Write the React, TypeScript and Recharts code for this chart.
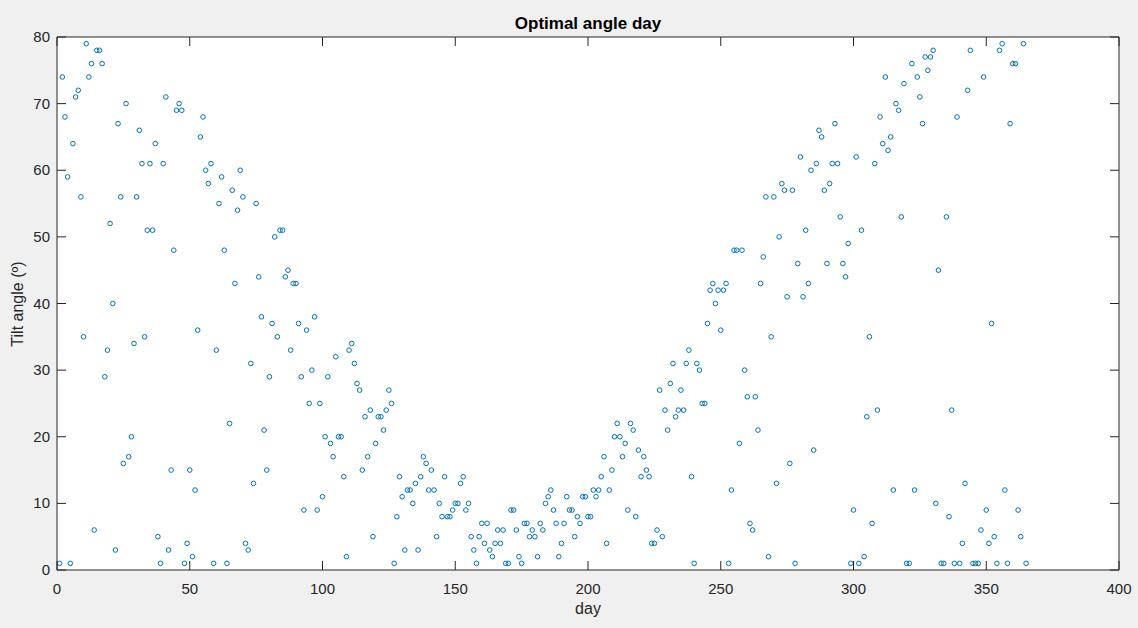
import React from 'react';
import { ScatterChart, Scatter, XAxis, YAxis, ReferenceArea } from 'recharts';

// optimal tilt angle (degrees) for each day of the year, grouped by month
const jan = [1, 74, 68, 59, 1, 64, 71, 72, 56, 35, 79, 74, 76, 6, 78, 78, 76, 29, 33, 52, 40, 3, 67, 56, 16, 70, 17, 20, 34, 56, 66];
const feb = [61, 35, 51, 61, 51, 64, 5, 1, 61, 71, 3, 15, 48, 69, 70, 69, 1, 4, 15, 2, 12, 36, 65, 68, 60, 58, 61, 1];
const mar = [33, 55, 59, 48, 1, 22, 57, 43, 54, 60, 56, 4, 3, 31, 13, 55, 44, 38, 21, 15, 29, 37, 50, 35, 51, 51, 44, 45, 33, 43, 43];
const apr = [37, 29, 9, 36, 25, 30, 38, 9, 25, 11, 20, 29, 19, 17, 32, 20, 20, 14, 2, 33, 34, 31, 28, 27, 15, 23, 17, 24, 5, 19];
const may = [23, 23, 21, 24, 27, 25, 1, 8, 14, 11, 3, 12, 12, 10, 13, 3, 14, 17, 16, 12, 15, 12, 5, 10, 8, 14, 8, 8, 9, 10, 10];
const jun = [13, 14, 9, 10, 5, 3, 1, 5, 7, 4, 7, 3, 2, 4, 6, 4, 6, 1, 1, 9, 9, 6, 2, 1, 7, 7, 5, 6, 5, 2];
const jul = [7, 6, 10, 11, 12, 9, 7, 2, 4, 7, 11, 9, 9, 5, 8, 7, 11, 11, 8, 8, 12, 11, 12, 14, 17, 4, 12, 15, 20, 22, 20];
const aug = [17, 19, 9, 22, 21, 8, 18, 14, 17, 15, 14, 4, 4, 6, 27, 5, 24, 21, 28, 31, 23, 24, 27, 24, 31, 33, 14, 1, 31, 30, 25];
const sep = [25, 37, 42, 43, 40, 42, 36, 42, 43, 1, 12, 48, 48, 19, 48, 30, 26, 7, 6, 26, 21, 43, 47, 56, 2, 35, 56, 13, 50, 58];
const oct = [57, 41, 16, 57, 1, 46, 62, 41, 51, 43, 60, 18, 61, 66, 65, 57, 46, 58, 61, 67, 61, 53, 46, 44, 49, 1, 9, 62, 1, 51, 2];
const nov = [23, 35, 7, 61, 24, 68, 64, 74, 63, 65, 12, 70, 69, 53, 73, 1, 1, 76, 12, 74, 71, 67, 77, 75, 77, 78, 10, 45, 1, 1];
const dec = [53, 8, 24, 1, 68, 1, 4, 13, 72, 78, 1, 1, 1, 6, 74, 9, 4, 37, 5, 1, 78, 79, 12, 1, 67, 76, 76, 9, 5, 79, 1];

const xTicks = [0, 50, 100, 150, 200, 250, 300, 350, 400];
const yTicks = [0, 10, 20, 30, 40, 50, 60, 70, 80];

const tiltAngles = [...jan, ...feb, ...mar, ...apr, ...may, ...jun, ...jul, ...aug, ...sep, ...oct, ...nov, ...dec];
const points = tiltAngles.map((angle, i) => ({ day: i + 1, angle }));

const W = 1138;
const H = 628;
const LEFT = 57;
const TOP = 37;
const RIGHT = 1119;
const BOTTOM = 570;
const X_AXIS_H = 30;
const Y_AXIS_W = 50;
const TICK = 9;
const AXIS_COLOR = '#262626';
const FONT = '"Liberation Sans", Arial, Helvetica, sans-serif';

// ticks point inward on both sides of the box, labels sit outside
const XTick = (props: any) => {
  const { x, payload } = props;
  return (
    <g>
      <line x1={x} y1={BOTTOM} x2={x} y2={BOTTOM - TICK} stroke={AXIS_COLOR} />
      <line x1={x} y1={TOP} x2={x} y2={TOP + TICK} stroke={AXIS_COLOR} />
      <text x={x} y={BOTTOM + 24} textAnchor="middle" fontSize={15} fill={AXIS_COLOR} fontFamily={FONT}>
        {payload.value}
      </text>
    </g>
  );
};

const YTick = (props: any) => {
  const { y, payload } = props;
  return (
    <g>
      <line x1={LEFT} y1={y} x2={LEFT + TICK} y2={y} stroke={AXIS_COLOR} />
      <line x1={RIGHT} y1={y} x2={RIGHT - TICK} y2={y} stroke={AXIS_COLOR} />
      <text x={LEFT - 7} y={y + 5} textAnchor="end" fontSize={15} fill={AXIS_COLOR} fontFamily={FONT}>
        {payload.value}
      </text>
    </g>
  );
};

const renderMarker = (props: any) => (
  <circle cx={props.cx} cy={props.cy} r={2.3} fill="none" stroke="#0072BD" strokeWidth={1} />
);

export default function App() {
  return (
    <div style={{ position: 'absolute', left: 0, top: 0, width: W, height: H, background: '#f0f0f0', fontFamily: FONT }}>
      {/* white axes background sits under the transparent svg so tick marks stay visible */}
      <div style={{ position: 'absolute', left: LEFT, top: TOP, width: RIGHT - LEFT, height: BOTTOM - TOP, background: '#ffffff' }} />
      <div style={{ position: 'absolute', left: 0, top: 0 }}>
        <ScatterChart
          width={W}
          height={H}
          margin={{ top: TOP, right: W - RIGHT, bottom: H - BOTTOM - X_AXIS_H, left: LEFT - Y_AXIS_W }}
        >
          <ReferenceArea x1={0} x2={400} y1={0} y2={80} fill="none" stroke={AXIS_COLOR} strokeWidth={1} />
          <XAxis
            type="number"
            dataKey="day"
            domain={[0, 400]}
            ticks={xTicks}
            height={X_AXIS_H}
            axisLine={false}
            tickLine={false}
            tick={XTick}
            interval={0}
          />
          <YAxis
            type="number"
            dataKey="angle"
            domain={[0, 80]}
            ticks={yTicks}
            width={Y_AXIS_W}
            axisLine={false}
            tickLine={false}
            tick={YTick}
            interval={0}
          />
          <Scatter data={points} shape={renderMarker} isAnimationActive={false} />
        </ScatterChart>
      </div>
      <div style={{ position: 'absolute', left: LEFT, width: RIGHT - LEFT, top: 14, textAlign: 'center', fontSize: 17, fontWeight: 'bold', color: '#000' }}>
        Optimal angle day
      </div>
      <div style={{ position: 'absolute', left: LEFT, width: RIGHT - LEFT, top: 600, textAlign: 'center', fontSize: 16, color: AXIS_COLOR }}>
        day
      </div>
      <div
        style={{
          position: 'absolute',
          left: 18,
          top: (TOP + BOTTOM) / 2,
          transform: 'translate(-50%, -50%) rotate(-90deg)',
          whiteSpace: 'nowrap',
          fontSize: 16,
          color: AXIS_COLOR,
        }}
      >
        Tilt angle (º)
      </div>
    </div>
  );
}
